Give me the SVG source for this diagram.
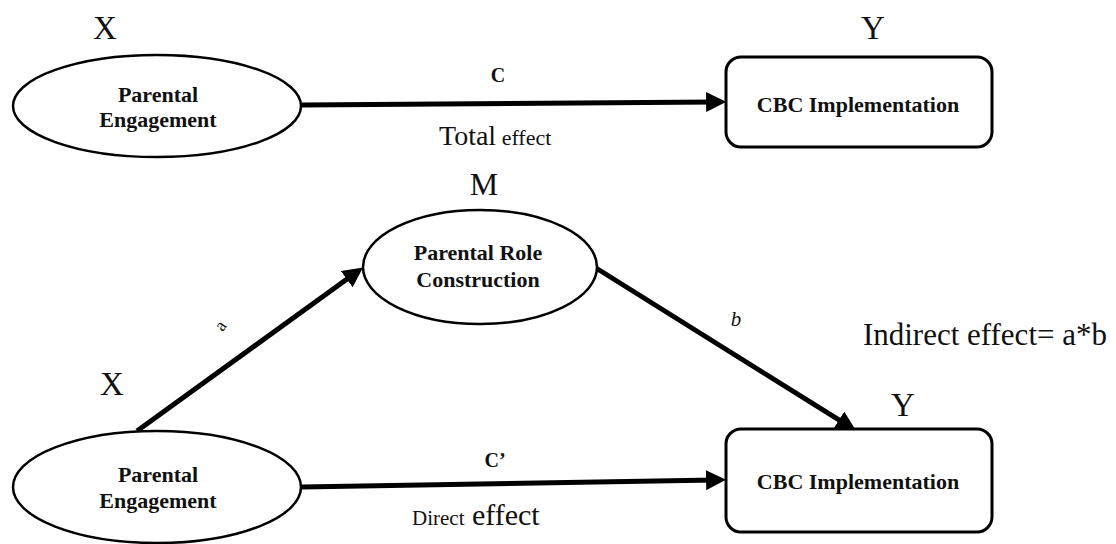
<svg xmlns="http://www.w3.org/2000/svg" width="1116" height="544" viewBox="0 0 1116 544">
  <style>
    .shape { fill: #ffffff; stroke: #000000; stroke-width: 2.5; }
    .node-label { font-family: "Liberation Serif", "Times New Roman", serif; font-weight: bold; font-size: 22px; fill: #111; text-anchor: middle; }
    .var { font-family: "Liberation Serif", "Times New Roman", serif; fill: #111; text-anchor: middle; }
    .path-label { font-family: "Liberation Serif", "Times New Roman", serif; fill: #111; }
    .edge { fill: none; stroke: #000000; stroke-width: 5; marker-end: url(#head); }
  </style>
  <defs>
    <marker id="head" markerUnits="userSpaceOnUse" markerWidth="20" markerHeight="20" viewBox="0 0 18 18" refX="8" refY="9" orient="auto">
      <path d="M0,0 L18,9 L0,18 z" fill="#000000"/>
    </marker>
  </defs>
  <rect width="1116" height="544" fill="#ffffff"/>

  <!-- Variable role letters -->
  <g id="roles">
    <text class="var" x="105" y="39" font-size="33">X</text>
    <text class="var" x="873" y="39" font-size="33">Y</text>
    <text class="var" x="484" y="195" font-size="32">M</text>
    <text class="var" x="112" y="395" font-size="33">X</text>
    <text class="var" x="903" y="416" font-size="33">Y</text>
  </g>

  <!-- Connectors -->
  <g id="connectors">
    <line class="edge" x1="302" y1="105" x2="715" y2="102"/>
    <line class="edge" x1="137" y1="431" x2="354" y2="274"/>
    <line class="edge" x1="596" y1="268" x2="846.5" y2="424.7"/>
    <line class="edge" x1="302" y1="487" x2="715" y2="480"/>
  </g>

  <!-- Path labels -->
  <g id="path-labels">
    <text class="path-label" x="498" y="82" font-size="20" font-weight="bold" text-anchor="middle">C</text>
    <text class="path-label" x="439" y="145"><tspan font-size="28">Total</tspan><tspan font-size="22"> effect</tspan></text>
    <text class="path-label" x="495" y="467" font-size="20" font-weight="bold" text-anchor="middle">C’</text>
    <text class="path-label" x="412" y="525"><tspan font-size="21">Direct</tspan><tspan font-size="30"> effect</tspan></text>
    <text class="path-label" font-size="18" text-anchor="middle" transform="translate(225,329) rotate(-55)">a</text>
    <text class="path-label" x="736" y="326" font-size="21" font-style="italic" text-anchor="middle">b</text>
    <text class="path-label" x="1107" y="345" font-size="31" text-anchor="end">Indirect effect= a*b</text>
  </g>

  <!-- Total effect model -->
  <g id="x-total">
    <ellipse class="shape" cx="157" cy="106" rx="144" ry="51"/>
    <text class="node-label" x="158" y="102">Parental</text>
    <text class="node-label" x="158" y="127">Engagement</text>
  </g>
  <g id="y-total">
    <rect class="shape" x="726" y="57" width="266" height="90" rx="15" style="stroke-width:3"/>
    <text class="node-label" x="858" y="112">CBC Implementation</text>
  </g>

  <!-- Mediation model -->
  <g id="m-mediator">
    <ellipse class="shape" cx="480" cy="267" rx="117" ry="57"/>
    <text class="node-label" x="478" y="260">Parental Role</text>
    <text class="node-label" x="478" y="287">Construction</text>
  </g>
  <g id="x-mediation">
    <ellipse class="shape" cx="157" cy="487" rx="144" ry="56"/>
    <text class="node-label" x="158" y="482">Parental</text>
    <text class="node-label" x="158" y="508">Engagement</text>
  </g>
  <g id="y-mediation">
    <rect class="shape" x="726" y="429" width="266" height="103" rx="15" style="stroke-width:3"/>
    <text class="node-label" x="858" y="489">CBC Implementation</text>
  </g>
</svg>
